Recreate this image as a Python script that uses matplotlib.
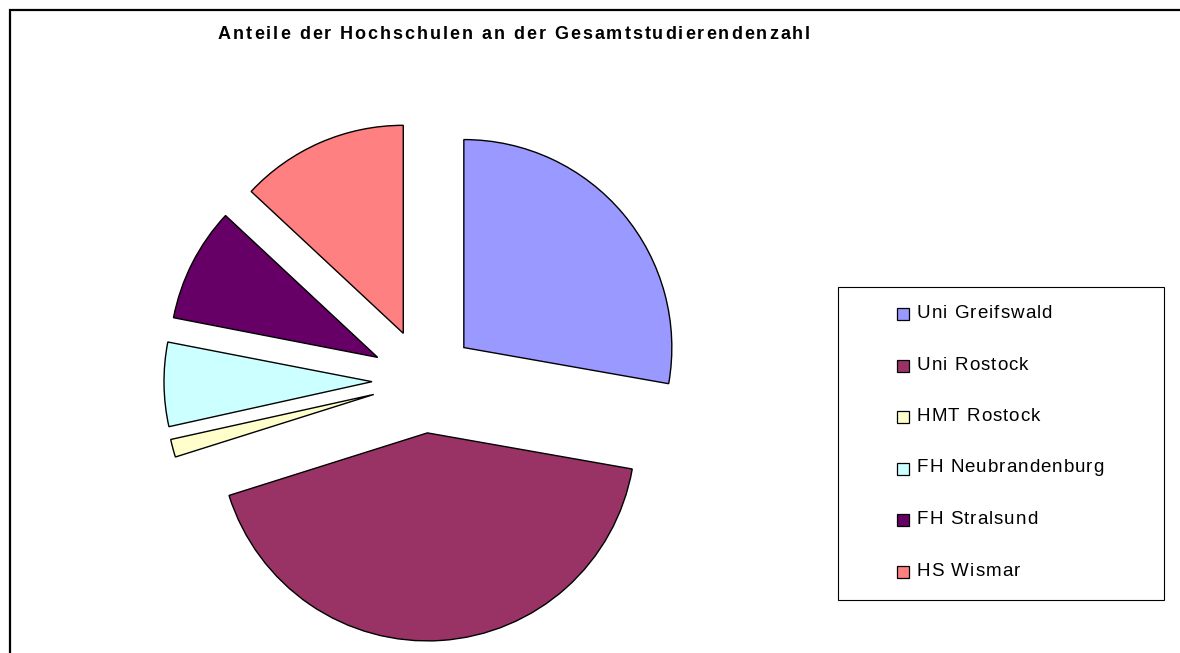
import matplotlib
matplotlib.use("Agg")
import matplotlib.pyplot as plt
from matplotlib.patches import Rectangle
from matplotlib.font_manager import FontProperties

# Studierende je Hochschule (aus dem Bild geschaetzt)
hochschulen = ["Uni Greifswald", "Uni Rostock", "HMT Rostock",
               "FH Neubrandenburg", "FH Stralsund", "HS Wismar"]
studierende = [10000, 15250, 500, 2350, 3200, 4700]
farben = ["#9999FF", "#993366", "#FFFFCC", "#CCFFFF", "#660066", "#FF8080"]
titel = "Anteile der Hochschulen an der Gesamtstudierendenzahl"

W, H = 1180, 653
plt.rcParams["font.family"] = ["Liberation Sans", "DejaVu Sans"]
fig = plt.figure(figsize=(W / 100, H / 100), dpi=100)
renderer = fig.canvas.get_renderer()


def breite(s, prop):
    # Breite in Pixeln
    return renderer.get_text_width_height_descent(s, prop, ismath=False)[0]


def gesperrt(x0, y, s, prop, sperr):
    # Text mit Zeichenabstand (sperr in Pixeln), x0/y in Pixeln von oben links
    ref = breite("|", prop)
    for i, ch in enumerate(s):
        if ch == " ":
            continue
        x = x0 + (breite(s[:i] + "|", prop) - ref if i else 0) + i * sperr
        fig.text(x / W, 1 - y / H, ch, fontproperties=prop, ha="left", va="baseline")


# Achse ueber die ganze Figur, Pixel -> Daten (Radius 1 = 208 px)
cx, cy, r = 424, 381, 208
ax = fig.add_axes([0, 0, 1, 1])
ax.pie(studierende, colors=farben, explode=[0.25] * len(studierende),
       startangle=90, counterclock=False, radius=1,
       wedgeprops=dict(edgecolor="black", linewidth=1.0))
ax.set_xlim(-cx / r, (W - cx) / r)
ax.set_ylim(-(H - cy) / r, cy / r)
ax.set_aspect("auto")
ax.axis("off")

# Rahmen (rechts und unten ausserhalb des Bildes)
fig.add_artist(Rectangle((10 / W, -0.05), 1.1, 1.05 - 10 / H, transform=fig.transFigure,
                         fill=False, edgecolor="black", linewidth=1.6))

# Titel, leicht gesperrt auf ca. 592 px Breite
tprop = FontProperties(family="Liberation Sans", weight="bold", size=13)
tsperr = (592 - breite(titel, tprop)) / (len(titel) - 1)
gesperrt(218, 39, titel, tprop, tsperr)

# Legende
fig.add_artist(Rectangle((838 / W, 1 - 600 / H), (1164 - 838) / W, (600 - 287) / H,
                         transform=fig.transFigure, fill=False, edgecolor="black",
                         linewidth=0.8))
lprop = FontProperties(family="Liberation Sans", size=13.5)
lsperr = max(0, (135 - breite(hochschulen[0], lprop)) / (len(hochschulen[0]) - 1))
for i, (name, farbe) in enumerate(zip(hochschulen, farben)):
    y = 318 + i * 51.5
    fig.add_artist(Rectangle((897 / W, 1 - (y + 2) / H), 12 / W, 12 / H,
                             transform=fig.transFigure, facecolor=farbe,
                             edgecolor="black", linewidth=0.9))
    gesperrt(917, y, name, lprop, lsperr)

fig.savefig("out.png", dpi=100)
